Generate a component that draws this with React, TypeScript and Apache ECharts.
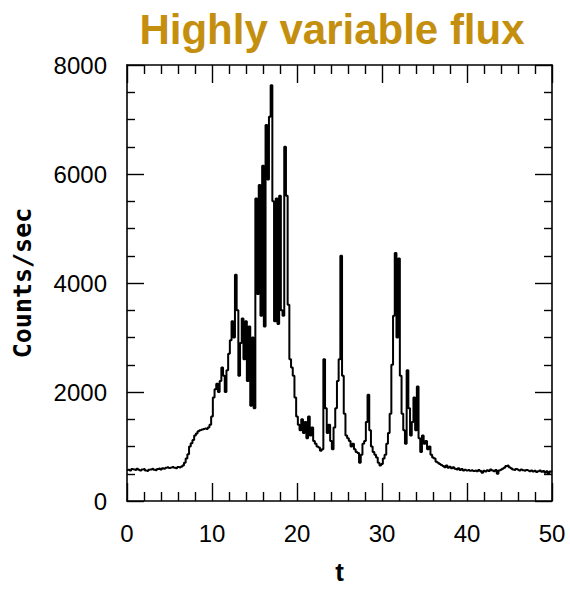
import React, { useEffect, useRef } from "react";
import * as echarts from "echarts";

// Light curve, counts per second in bins of BIN seconds starting at t = 0.
const BIN = 0.2;

// t = 0.0 – 6.8 : quiescent level
const preBurst = [
  570, 575, 560, 585, 580, 570, 590, 575, 560, 580,
  585, 560, 550, 575, 580, 590, 575, 565, 585, 595,
  580, 600, 590, 610, 620, 605, 615, 625, 610, 600,
  625, 615, 630, 650, 700,
];

// t = 7.0 – 14.8 : slow rise
const rise = [
  780, 860, 1000, 1060, 1120, 1200, 1240, 1280, 1300, 1310,
  1320, 1330, 1320, 1350, 1400, 1550, 1900, 2050, 2150, 2000,
  2200, 2450, 2300, 2000, 2400, 2700, 2950, 3300, 3000, 4150,
  3500, 2300, 2900, 3350, 2600, 3300, 2200, 3200, 1750, 3000,
];

// t = 15.0 – 19.8 : main burst
const burst = [
  1700, 5550, 3800, 5800, 3400, 6150, 3200, 6900, 5900, 7050,
  7630, 5500, 3300, 5550, 3250, 5600, 3500, 3400, 6500, 5600,
  3600, 2600, 2450, 2300, 1900,
];

// t = 20.0 – 29.8 : decay with isolated flares
const decay = [
  1550, 1400, 1300, 1500, 1250, 1450, 1150, 1550, 1200, 1350,
  1100, 1050, 1000, 980, 920, 950, 2600, 1700, 1250, 1400,
  1100, 950, 1350, 1700, 2200, 2600, 4500, 2300, 1600, 1200,
  1150, 1100, 1000, 1050, 950, 900, 880, 700, 850, 1050,
  1100, 1450, 1950, 1300, 1000, 900, 850, 800, 700, 650,
];

// t = 30.0 – 36.8 : second flare
const secondFlare = [
  680, 780, 850, 1050, 1250, 1600, 2500, 3400, 4550, 3000,
  4450, 2300, 1600, 1300, 1050, 2400, 1700, 1200, 1450, 1900,
  1300, 2100, 1150, 900, 1200, 1050, 1100, 950, 1000, 850,
  800, 780, 720, 700, 680,
];

// t = 37.0 – 50.0 : return to quiescence
const tail = [
  660, 640, 620, 650, 610, 630, 600, 620, 590, 580,
  600, 570, 585, 560, 575, 560, 570, 555, 565, 550,
  560, 545, 570, 550, 520, 555, 540, 565, 550, 580,
  560, 545, 570, 500, 560, 575, 590, 610, 640, 650,
  620, 600, 580, 570, 585, 575, 560, 580, 565, 555,
  570, 560, 545, 560, 540, 555, 530, 545, 560, 535,
  550, 520, 545, 500, 540, 530,
];

const xTicks = { min: 0, max: 50, interval: 10 };
const yTicks = { min: 0, max: 8000, interval: 2000 };

const TICK_FONT = "'Liberation Sans', Arial, sans-serif";

export default function App() {
  const ref = useRef<HTMLDivElement>(null);

  useEffect(() => {
    if (!ref.current) return;
    const chart = echarts.init(ref.current, undefined, { renderer: "svg" });

    const counts = [
      ...preBurst,
      ...rise,
      ...burst,
      ...decay,
      ...secondFlare,
      ...tail,
    ];
    const points = counts.map((c, i) => [Math.round(i * BIN * 10) / 10, c]);

    const axisLine = { show: true, onZero: false, lineStyle: { color: "#000", width: 1.6 } };
    const plain = (v: number) => String(v);

    const xBase = {
      type: "value" as const,
      ...xTicks,
      axisLine,
      axisTick: { show: true, inside: true, length: 18, lineStyle: { color: "#000", width: 1.4 } },
      minorTick: { show: true, splitNumber: 5, length: 9, lineStyle: { color: "#000", width: 1.4 } },
      splitLine: { show: false },
      minorSplitLine: { show: false },
    };
    const yBase = {
      type: "value" as const,
      ...yTicks,
      axisLine,
      axisTick: { show: true, inside: true, length: 17, lineStyle: { color: "#000", width: 1.4 } },
      minorTick: { show: true, splitNumber: 4, length: 8, lineStyle: { color: "#000", width: 1.4 } },
      splitLine: { show: false },
      minorSplitLine: { show: false },
    };

    chart.setOption({
      animation: false,
      backgroundColor: "#fff",
      title: {
        text: "Highly variable flux",
        left: 327,
        top: 3,
        textAlign: "center",
        textStyle: {
          color: "#C48F0E",
          fontFamily: TICK_FONT,
          fontWeight: "bold",
          fontSize: 42,
        },
      },
      grid: { left: 127, right: 18, top: 65, bottom: 86 },
      xAxis: [
        {
          ...xBase,
          position: "bottom",
          name: "t",
          nameLocation: "middle",
          nameGap: 58,
          nameTextStyle: {
            color: "#000",
            fontFamily: TICK_FONT,
            fontWeight: "bold",
            fontSize: 26,
          },
          axisLabel: {
            show: true,
            margin: 20,
            color: "#000",
            fontFamily: TICK_FONT,
            fontSize: 24,
            formatter: plain,
          },
        },
        {
          ...xBase,
          position: "top",
          axisLabel: { show: false },
        },
      ],
      yAxis: [
        {
          ...yBase,
          position: "left",
          name: "Counts/sec",
          nameLocation: "middle",
          nameRotate: 90,
          nameGap: 92,
          nameTextStyle: {
            color: "#000",
            fontFamily: "'DejaVu Sans Mono', monospace",
            fontWeight: "bold",
            fontSize: 25,
          },
          axisLabel: {
            show: true,
            margin: 20,
            color: "#000",
            fontFamily: TICK_FONT,
            fontSize: 24,
            formatter: plain,
          },
        },
        {
          ...yBase,
          position: "right",
          axisLabel: { show: false },
        },
      ],
      series: [
        {
          type: "line",
          xAxisIndex: 0,
          yAxisIndex: 0,
          data: points,
          step: "middle",
          showSymbol: false,
          symbol: "none",
          lineStyle: { color: "#000", width: 2 },
          clip: true,
        },
      ],
    });

    return () => chart.dispose();
  }, []);

  return (
    <div
      ref={ref}
      style={{ position: "fixed", left: 0, top: 0, width: 570, height: 590 }}
    />
  );
}
